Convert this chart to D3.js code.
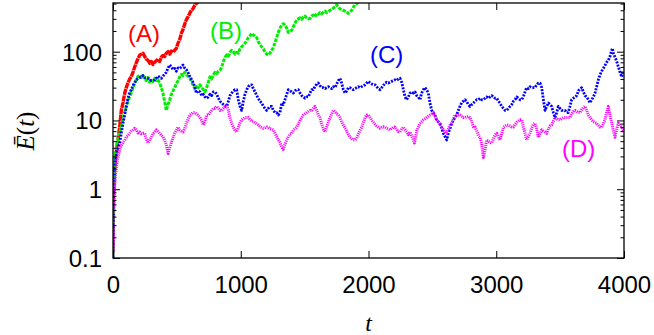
<!DOCTYPE html>
<html>
<head>
<meta charset="utf-8">
<script src="https://cdn.jsdelivr.net/npm/d3@7"></script>
<style>
  html, body { margin: 0; padding: 0; background: #fff; }
  svg { display: block; }
  .tick text { font-family: "Liberation Sans", Arial, Helvetica, sans-serif; font-size: 24px; fill: #000; }
</style>
</head>
<body>
<svg id="chart" width="654" height="335"></svg>
<script>
// E(t) samples, [t, E]
var seriesA = [[0,0.12],[5,1.0],[13,2.0],[18,2.6],[30,4.0],[39,5.2],[52,8],[65,14],[78,18],[92,25],[104,30],[117,35],[130,40],[143,43],[156,50],[170,60],[190,75],[209,89],[222,92],[235,95],[248,85],[261,78],[274,75],[287,68],[300,72],[313,65],[326,70],[339,74],[352,78],[365,72],[378,83],[391,88],[404,85],[417,95],[431,100],[444,92],[457,102],[470,98],[483,105],[496,112],[509,133],[522,150],[535,185],[548,210],[561,250],[574,290],[587,320],[600,360],[613,400],[626,420],[639,470],[652,500],[665,540]];

var seriesB = [[0,0.1],[5,0.9],[13,2.9],[30,4.5],[45,6],[65,8],[85,12],[104,16],[125,21],[143,25],[162,32],[182,39],[196,44],[209,46],[222,42],[235,45],[248,41],[261,38],[274,42],[287,36],[300,39],[313,37],[326,41],[339,38],[352,39],[365,35],[378,30],[391,25],[404,19],[417,14],[431,17],[444,20],[457,24],[470,27],[483,30],[496,34],[509,38],[522,43],[535,47],[548,45],[561,50],[574,46],[587,44],[600,41],[613,37],[626,33],[640,29],[652,31],[668,30],[681,33],[694,30],[707,28],[720,26],[733,30],[746,36],[759,43],[772,40],[785,46],[798,50],[812,48],[825,52],[838,54],[851,60],[864,72],[877,83],[890,90],[903,86],[916,98],[929,105],[942,100],[955,92],[968,98],[981,95],[994,110],[1007,118],[1020,125],[1033,133],[1047,145],[1059,160],[1072,170],[1086,185],[1098,175],[1112,168],[1125,160],[1137,140],[1150,128],[1164,117],[1177,110],[1190,98],[1203,92],[1216,89],[1229,96],[1242,105],[1255,115],[1268,135],[1281,160],[1294,190],[1307,220],[1321,245],[1333,255],[1346,245],[1360,220],[1372,190],[1385,195],[1399,206],[1411,230],[1425,260],[1438,290],[1451,300],[1464,310],[1477,295],[1490,320],[1503,330],[1516,310],[1529,300],[1542,305],[1555,330],[1568,340],[1581,320],[1595,360],[1607,350],[1620,370],[1633,355],[1646,375],[1660,390],[1672,370],[1686,385],[1699,400],[1712,410],[1725,430],[1738,450],[1751,480],[1764,450],[1777,420],[1790,410],[1803,400],[1817,390],[1830,380],[1842,360],[1855,375],[1868,400],[1881,440],[1894,480],[1907,500],[1920,520]];

var seriesC = [[0,0.1],[5,0.8],[13,2.1],[30,3.5],[52,4.7],[65,6.5],[78,9.1],[92,12],[104,16],[117,21],[130,25],[143,28],[160,33],[182,39],[200,41],[222,43],[235,45],[248,42],[274,41],[300,38],[326,39],[352,44],[378,41],[395,45],[417,50],[431,58],[444,64],[457,60],[470,55],[483,57],[496,52],[509,58],[522,57],[535,60],[548,64],[561,58],[574,55],[587,50],[600,44],[613,40],[626,36],[640,31],[652,25],[665,27],[681,26],[694,23],[707,24],[720,22],[733,21],[746,22],[759,24],[772,23],[785,26],[798,26],[812,24],[825,21],[838,19],[851,18],[864,17],[877,16],[890,16],[903,19],[916,23],[929,25],[942,27],[955,28],[968,28],[981,20],[994,16],[1007,14],[1020,19],[1033,24],[1047,28],[1059,31],[1072,33],[1086,33],[1098,29],[1112,26],[1125,23],[1137,21],[1150,19],[1164,18],[1177,16],[1190,15],[1203,14],[1216,15],[1229,16],[1242,16],[1255,14],[1268,13],[1281,13],[1294,12],[1307,13],[1321,18],[1333,17],[1346,20],[1360,24],[1372,28],[1385,27],[1399,26],[1411,25],[1425,27],[1438,28],[1451,28],[1464,25],[1477,23],[1490,22],[1503,21],[1516,22],[1529,22],[1542,25],[1555,28],[1568,28],[1581,31],[1595,34],[1607,35],[1620,32],[1633,30],[1646,30],[1660,29],[1672,30],[1686,31],[1699,30],[1712,29],[1725,31],[1738,30],[1751,34],[1764,38],[1777,41],[1790,35],[1803,28],[1817,25],[1830,27],[1842,30],[1855,30],[1868,29],[1881,28],[1894,29],[1907,30],[1920,31],[1934,30],[1947,31],[1960,32],[1973,33],[1986,35],[1999,37],[2012,35],[2025,34],[2038,33],[2051,33],[2064,31],[2077,29],[2090,28],[2103,30],[2116,32],[2129,35],[2142,36],[2155,35],[2168,36],[2181,37],[2194,38],[2207,39],[2220,38],[2233,40],[2247,41],[2260,36],[2273,28],[2286,22],[2299,20],[2312,22],[2325,25],[2338,26],[2351,25],[2364,26],[2377,23],[2390,22],[2403,20],[2416,25],[2429,28],[2442,30],[2455,28],[2468,25],[2481,18],[2495,14],[2507,13],[2520,12],[2534,10],[2547,9.5],[2560,9],[2573,7.7],[2586,6.5],[2599,5.8],[2612,5.2],[2625,6.5],[2638,7.6],[2651,9],[2664,10],[2677,11],[2690,12],[2703,14],[2716,16],[2729,18],[2742,19],[2755,20],[2768,19],[2781,17],[2795,16],[2808,17],[2821,18],[2834,19],[2847,20],[2860,20],[2873,21],[2886,20],[2899,20],[2912,21],[2925,22],[2938,21],[2951,22],[2965,23],[2978,22],[2991,21],[3004,21],[3017,19],[3029,18],[3043,16],[3056,15],[3069,14],[3082,14],[3095,15],[3108,16],[3121,17],[3134,19],[3147,20],[3160,22],[3173,21],[3186,20],[3199,20],[3212,22],[3225,26],[3238,30],[3251,29],[3264,31],[3278,30],[3291,30],[3303,30],[3317,33],[3329,35],[3343,35],[3356,30],[3369,20],[3382,14],[3395,16],[3408,18],[3421,17],[3434,16],[3447,13],[3460,11],[3473,13],[3486,16],[3499,15],[3512,14],[3525,14],[3538,14],[3551,13],[3564,13],[3577,16],[3590,20],[3603,21],[3616,22],[3630,23],[3643,27],[3656,29],[3669,30],[3682,26],[3695,23],[3708,22],[3721,20],[3734,18],[3747,20],[3760,22],[3773,25],[3786,31],[3799,39],[3812,46],[3825,52],[3838,57],[3851,63],[3864,70],[3877,75],[3890,85],[3904,105],[3910,112],[3917,95],[3930,83],[3943,72],[3956,60],[3969,50],[3982,43],[3991,52],[4000,48]];

var seriesD = [[0,0.1],[3,0.3],[8,0.7],[13,1.07],[20,1.6],[26,2.1],[39,2.9],[52,3.7],[65,4.3],[78,4.8],[92,5.2],[104,5.8],[117,6.0],[131,6.5],[143,7.0],[156,7.3],[170,7.7],[183,7.2],[196,6.6],[209,6.8],[222,6.4],[235,6.5],[248,6.5],[261,5.4],[274,4.7],[287,5.2],[300,5.7],[313,6.4],[326,6.8],[339,7.3],[352,6.9],[365,6.5],[378,6.1],[391,5.8],[404,5.2],[417,4.4],[431,3.3],[444,4.0],[456,4.7],[470,5.6],[483,6.5],[496,7.2],[509,8],[522,7.3],[535,7.0],[548,6.8],[561,7.5],[574,9.1],[587,10.5],[600,12],[613,12.5],[626,13],[640,13],[652,12.5],[665,12],[681,11],[694,10],[707,8.6],[720,10],[733,12],[746,12],[759,13],[773,14],[786,15],[798,15],[812,16],[825,15],[838,14],[851,14],[864,15],[877,16],[890,17],[903,14],[916,11],[929,9.1],[942,8],[955,7.2],[968,6.8],[981,8],[994,9.2],[1007,10.2],[1020,10.6],[1033,11],[1047,11],[1059,11],[1072,10.3],[1086,9.7],[1098,9.7],[1112,9.3],[1125,8.9],[1137,8.6],[1150,8.2],[1164,7.9],[1177,7.7],[1190,7.8],[1203,8],[1216,8],[1229,7.6],[1242,7.5],[1255,7.3],[1268,6.5],[1281,5.8],[1294,5.2],[1307,4.8],[1321,4.1],[1333,3.8],[1346,4.5],[1360,5.2],[1372,5.8],[1385,6.3],[1399,6.5],[1411,7.2],[1425,7.6],[1438,8],[1451,9],[1464,10],[1477,11],[1490,12],[1503,12.5],[1516,13],[1529,13.5],[1542,14],[1555,14],[1568,15],[1581,16],[1595,14],[1607,12],[1620,11],[1633,9],[1646,7.5],[1660,6.8],[1672,8],[1686,9.5],[1699,11],[1712,12.5],[1725,14],[1738,13.5],[1751,12.5],[1764,12],[1777,11],[1790,9.5],[1803,8.5],[1817,7.7],[1830,7],[1842,6.3],[1855,5.7],[1868,5.5],[1881,5.2],[1894,5.2],[1907,5.5],[1920,6.3],[1934,7.2],[1947,8],[1960,9.5],[1973,11],[1986,12],[1999,12],[2012,11],[2025,10],[2038,9.4],[2051,8.8],[2064,8.3],[2077,8],[2090,7.7],[2103,7.9],[2116,8.1],[2129,8],[2142,7.7],[2155,7.5],[2168,7.3],[2181,7.6],[2194,8],[2207,8],[2220,7.4],[2233,6.9],[2247,6.8],[2260,7.5],[2273,8],[2286,7.4],[2299,6.8],[2312,6.2],[2325,6.8],[2338,6.0],[2351,5.2],[2359,4.7],[2368,5.5],[2377,7],[2390,8],[2403,9],[2416,9.6],[2429,10.2],[2442,10.6],[2455,11],[2468,11.5],[2481,12],[2495,12.5],[2507,13],[2520,11.5],[2534,10.2],[2547,9.5],[2560,8.8],[2573,8],[2586,7.4],[2599,6.8],[2612,6.5],[2625,7.5],[2638,8.5],[2651,9.1],[2664,10.5],[2677,12],[2690,12],[2703,12],[2716,12],[2729,11.5],[2742,11],[2755,11],[2768,11.2],[2781,11.5],[2795,11],[2808,9.5],[2821,8],[2834,8],[2847,7],[2860,6],[2873,5.7],[2886,4.5],[2899,2.9],[2912,3.6],[2925,5.2],[2938,5.0],[2951,4.8],[2965,4.7],[2978,5.5],[2991,6.2],[3004,6.5],[3017,5.8],[3029,5.2],[3043,6.5],[3056,8],[3069,8.3],[3082,8.6],[3095,8.6],[3108,8.3],[3121,8],[3134,8],[3147,8.7],[3160,9.4],[3173,9.8],[3186,10.2],[3199,10.2],[3212,8],[3225,6.5],[3238,5.2],[3251,5.8],[3264,6.5],[3278,7.8],[3291,8.8],[3303,9.1],[3317,7.5],[3329,5.7],[3343,6.5],[3356,7.3],[3369,7],[3382,6.8],[3395,6.5],[3408,7.5],[3421,8.3],[3434,8.6],[3447,9.8],[3460,11],[3473,10.6],[3486,10.2],[3499,10.2],[3512,10.6],[3525,11],[3538,11],[3551,11],[3564,11],[3577,11],[3590,12.5],[3603,13.5],[3616,14],[3630,13.5],[3643,13],[3656,13],[3669,14.5],[3682,15.5],[3695,16],[3708,14],[3721,12],[3734,11],[3747,10.2],[3760,9.6],[3773,9.3],[3786,9.1],[3799,8.5],[3812,8],[3825,8],[3838,9],[3851,10.2],[3864,13],[3877,16],[3890,12],[3904,9.1],[3917,7],[3930,5.7],[3943,7.5],[3956,9.1],[3969,8.5],[3982,8],[3991,7.4],[4000,6.8]];

var seriesNames = ["(A)", "(B)", "(C)", "(D)"];
var seriesColors = ["#ff0000", "#00ee00", "#0000ff", "#ff00ff"];
var xTicks = [0, 1000, 2000, 3000, 4000];
var yTicks = [0.1, 1, 10, 100];
var yTickLabels = ["0.1", "1", "10", "100"];

var svg = d3.select("#chart");
// plot box (window.top is reserved, so no "top" here)
var plotL = 113, plotR = 624, plotT = 3, plotB = 258;

var x = d3.scaleLinear().domain([0, 4000]).range([plotL, plotR]);
var y = d3.scaleLog().domain([0.1, 500]).range([plotB, plotT + 0.6]);

// minor ticks 2..9 per decade
var yMinor = [];
yTicks.forEach(function (d) {
    for (var k = 2; k <= 9; k++) {
        var v = d * k;
        if (v <= 500) yMinor.push(v);
    }
});

svg.append("defs").append("clipPath").attr("id", "plotClip")
    .append("rect").attr("x", plotL).attr("y", plotT)
    .attr("width", plotR - plotL).attr("height", plotB - plotT);

// curves
var line = d3.line()
    .x(function (d) { return x(d[0]); })
    .y(function (d) { return y(d[1]); });

var allSeries = [seriesA, seriesB, seriesC, seriesD];
// the noisy bands in the picture are 3-5 px thick, dashed per gnuplot line type
var dashes = ["6,0.6", "3.5,1.2", "2,1.3", "1.1,1"];
var widths = [3.4, 3, 2.8, 3];

var curves = svg.append("g").attr("clip-path", "url(#plotClip)");
allSeries.forEach(function (s, i) {
    curves.append("path")
        .datum(s)
        .attr("d", line)
        .attr("fill", "none")
        .attr("stroke", seriesColors[i])
        .attr("stroke-width", widths[i])
        .attr("stroke-linejoin", "round")
        .attr("stroke-dasharray", dashes[i]);
});

// axes, ticks pointing inward
function styleAxis(g) {
    g.select(".domain").remove();
    g.selectAll(".tick line").attr("stroke", "#000").attr("stroke-width", 1);
}

svg.append("g").attr("transform", "translate(" + plotL + ",0)")
    .call(d3.axisLeft(y).tickValues(yTicks).tickSize(-7).tickPadding(11)
        .tickFormat(function (d, i) { return yTickLabels[i]; }))
    .call(styleAxis)
    .selectAll("text").attr("dy", "0.35em");

svg.append("g").attr("transform", "translate(" + plotL + ",0)")
    .call(d3.axisLeft(y).tickValues(yMinor).tickSize(-3.5).tickFormat(""))
    .call(styleAxis);

svg.append("g").attr("transform", "translate(" + plotR + ",0)")
    .call(d3.axisRight(y).tickValues(yTicks).tickSize(-7).tickFormat(""))
    .call(styleAxis);

svg.append("g").attr("transform", "translate(" + plotR + ",0)")
    .call(d3.axisRight(y).tickValues(yMinor).tickSize(-3.5).tickFormat(""))
    .call(styleAxis);

svg.append("g").attr("transform", "translate(0," + plotB + ")")
    .call(d3.axisBottom(x).tickValues(xTicks).tickSize(-7).tickPadding(18)
        .tickFormat(d3.format("d")))
    .call(styleAxis);

svg.append("g").attr("transform", "translate(0," + plotT + ")")
    .call(d3.axisTop(x).tickValues(xTicks).tickSize(-7).tickFormat(""))
    .call(styleAxis);

// frame
svg.append("rect")
    .attr("x", plotL).attr("y", plotT)
    .attr("width", plotR - plotL).attr("height", plotB - plotT)
    .attr("fill", "none").attr("stroke", "#000").attr("stroke-width", 1.3);

// series labels
var labelPos = [[128, 42], [210, 39], [370, 63], [562, 157]];
seriesNames.forEach(function (n, i) {
    svg.append("text")
        .attr("x", labelPos[i][0]).attr("y", labelPos[i][1])
        .attr("font-family", "Liberation Sans, Arial, Helvetica, sans-serif")
        .attr("font-size", 24)
        .attr("fill", seriesColors[i])
        .text(n);
});

// axis titles
svg.append("text")
    .attr("x", (plotL + plotR) / 2).attr("y", 331)
    .attr("text-anchor", "middle")
    .attr("font-family", "Liberation Serif, Times New Roman, serif")
    .attr("font-style", "italic")
    .attr("font-size", 24)
    .text("t");

var ylab = svg.append("text")
    .attr("transform", "translate(34,131) rotate(-90)")
    .attr("text-anchor", "middle")
    .attr("font-family", "Liberation Serif, Times New Roman, serif")
    .attr("font-size", 25);
ylab.append("tspan").attr("font-style", "italic").text("\u0112");
ylab.append("tspan").text("(");
ylab.append("tspan").attr("font-style", "italic").text("t");
ylab.append("tspan").text(")");
</script>
</body>
</html>
